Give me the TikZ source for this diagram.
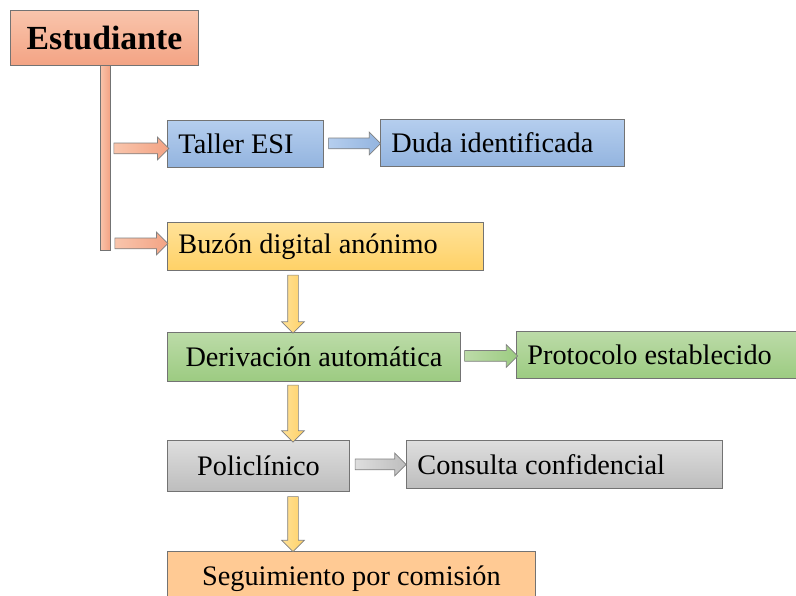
\documentclass[tikz,border=0pt]{standalone}
\usepackage{fontspec}
\setmainfont{Liberation Serif}
\usetikzlibrary{shapes.arrows,calc}

\definecolor{salmontop}{HTML}{F9C5AC}
\definecolor{salmonbot}{HTML}{F3A384}
\definecolor{bluetop}{HTML}{B5CEEE}
\definecolor{bluebot}{HTML}{93B4DF}
\definecolor{yellowtop}{HTML}{FFE299}
\definecolor{yellowbot}{HTML}{FFD166}
\definecolor{greentop}{HTML}{BCDBA8}
\definecolor{greenbot}{HTML}{9CCB81}
\definecolor{graytop}{HTML}{DEDEDE}
\definecolor{graybot}{HTML}{BDBDBD}
\definecolor{peach}{HTML}{FFCA94}

\begin{document}
\begin{tikzpicture}[font=\fontsize{16.1}{18}\selectfont,
  box/.style={draw=black!55,line width=.5pt,anchor=north west,inner ysep=0pt},
  cbox/.style={box,inner xsep=0pt,minimum width=#1},
  lbox/.style={box,inner xsep=.22cm,text width=#1,align=flush left},
  salmonfill/.style={top color=salmontop,bottom color=salmonbot},
  bluefill/.style={top color=bluetop,bottom color=bluebot},
  yellowfill/.style={top color=yellowtop,bottom color=yellowbot},
  greenfill/.style={top color=greentop,bottom color=greenbot},
  grayfill/.style={top color=graytop,bottom color=graybot},
  harrow/.style={single arrow,draw=black!50,line width=.4pt,inner xsep=0pt,inner ysep=.1cm,single arrow head extend=.12cm,minimum height=#1},
  varrow/.style={harrow=#1,inner xsep=.1cm,inner ysep=0pt,shape border rotate=270,left color=yellowtop,right color=yellowbot}]
\useasboundingbox (0,0) rectangle (15.92,-11.92);
\node[cbox=3.76cm,minimum height=1.1cm,salmonfill,font=\fontsize{19.2}{22}\selectfont\bfseries] (est) at (0.2,-0.2) {Estudiante\hspace{.2cm}};
\node[draw=black!55,line width=.5pt,anchor=north,inner sep=0pt,minimum width=.2cm,minimum height=3.7cm,left color=salmontop,right color=salmonbot] (stem) at (2.1,-1.3) {};
\node[lbox=2.68cm,minimum height=.94cm,bluefill] (taller) at (3.34,-2.4) {Taller ESI};
\node[lbox=4.44cm,minimum height=.94cm,bluefill] (duda) at (7.6,-2.38) {Duda identificada};
\node[lbox=5.88cm,minimum height=.96cm,yellowfill] (buzon) at (3.34,-4.44) {Buzón digital anónimo};
\node[cbox=5.86cm,minimum height=.98cm,greenfill] (deriv) at (3.34,-6.64) {Derivación automática};
\node[lbox=5.16cm,minimum height=.94cm,greenfill] (proto) at (10.32,-6.62) {Protocolo establecido};
\node[cbox=3.64cm,minimum height=1.02cm,grayfill] (poli) at (3.34,-8.8) {Policlínico};
\node[lbox=5.88cm,minimum height=.96cm,grayfill] (consulta) at (8.12,-8.8) {Consulta confidencial};
\node[cbox=7.36cm,minimum height=1.08cm,fill=peach] (seguim) at (3.34,-11.02) {Seguimiento por comisión};
\coordinate (spine) at (5.86,0);
\path ($(stem.east |- taller.west)+(0,-.09)$) -- ($(taller.west)+(0,-.09)$) node[midway,harrow=1.1cm,left color=salmontop,right color=salmonbot] {};
\path ($(stem.east |- buzon.west)+(0,.06)$) -- ($(buzon.west)+(0,.06)$) node[midway,harrow=1.06cm,left color=salmontop,right color=salmonbot] {};
\path (taller.east) -- (duda.west) node[midway,harrow=1.04cm,left color=bluetop,right color=bluebot] {};
\path (deriv.east) -- (proto.west) node[midway,harrow=1.06cm,left color=greentop,right color=greenbot] {};
\path ($(poli.east)+(0,.03)$) -- (consulta.west) node[midway,harrow=1.02cm,left color=graytop,right color=graybot] {};
\path (spine |- buzon.south) -- (spine |- deriv.north) node[midway,varrow=1.16cm] {};
\path (spine |- deriv.south) -- (spine |- poli.north) node[midway,varrow=1.14cm] {};
\path (spine |- poli.south) -- (spine |- seguim.north) node[midway,varrow=1.1cm] {};
\end{tikzpicture}
\end{document}
